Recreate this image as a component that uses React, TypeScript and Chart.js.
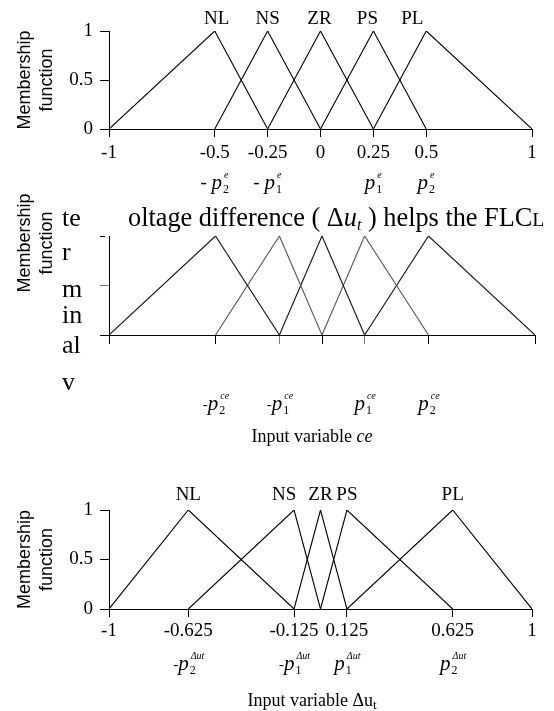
import React, { useEffect, useRef } from 'react';
import { Chart, registerables } from 'chart.js';

Chart.register(...registerables);

const SERIF = '"Liberation Serif", "Times New Roman", serif';
const SANS = '"Liberation Sans", Arial, sans-serif';

// ---------- data ----------
const memberNames = ['NL', 'NS', 'ZR', 'PS', 'PL'];
const mfShape = [0, 1, 0];
const yTickValues = [0, 0.25, 0.5, 0.75, 1];
const yTickLabels = ['0', '', '0.5', '', '1'];
const yTitleLines = ['Membership', 'function'];

// panel 1 : e
const eLeft = [-1, -0.5, -0.25, 0, 0.25];
const ePeak = [-0.5, -0.25, 0, 0.25, 0.5];
const eRight = [-0.25, 0, 0.25, 0.5, 1];
const eTicks = [-1, -0.5, -0.25, 0, 0.25, 0.5, 1];
const eTickLabels = ['-1', '-0.5', '-0.25', '0', '0.25', '0.5', '1'];
const eParamAt = [-0.5, -0.25, 0.25, 0.5];
const eParamSign = ['- ', '- ', '', ''];
const eParamSub = ['2', '1', '1', '2'];
const eParamSup = 'e';

// panel 2 : ce
const ceLeft = [-1, -0.5, -0.2, 0, 0.2];
const cePeak = [-0.5, -0.2, 0, 0.2, 0.5];
const ceRight = [-0.2, 0, 0.2, 0.5, 1];
const ceTicks = [-1, -0.5, -0.2, 0, 0.2, 0.5, 1];
const ceParamAt = [-0.5, -0.2, 0.2, 0.5];
const ceParamSign = ['-', '-', '', ''];
const ceParamSub = ['2', '1', '1', '2'];
const ceParamSup = 'ce';
const ceOverlaySide = ['te', 'r', 'm', 'in', 'al', 'v'];

// panel 3 : delta u_t
const duLeft = [-1, -0.625, -0.125, 0, 0.125];
const duPeak = [-0.625, -0.125, 0, 0.125, 0.625];
const duRight = [-0.125, 0, 0.125, 0.625, 1];
const duTicks = [-1, -0.625, -0.125, 0.125, 0.625, 1];
const duTickLabels = ['-1', '-0.625', '-0.125', '0.125', '0.625', '1'];
const duParamAt = [-0.625, -0.125, 0.125, 0.625];
const duParamSign = ['-', '-', '', ''];
const duParamSub = ['2', '1', '1', '2'];
const duParamSup = 'Δut';

// ---------- helpers ----------
function makeDatasets(lefts: number[], peaks: number[], rights: number[], colors: string[]) {
  return peaks.map((p, i) => ({
    label: memberNames[i],
    data: [
      { x: lefts[i], y: mfShape[0] },
      { x: p, y: mfShape[1] },
      { x: rights[i], y: mfShape[2] },
    ],
    borderColor: colors[i],
    borderWidth: 1.1,
    pointRadius: 0,
    fill: false,
    tension: 0,
  }));
}

function drawNames(chart: any, peaks: number[], nudges: number[], y: number) {
  const ctx = chart.ctx;
  const xs = chart.scales.x;
  ctx.save();
  ctx.font = `19px ${SERIF}`;
  ctx.fillStyle = '#000';
  ctx.textAlign = 'center';
  ctx.textBaseline = 'middle';
  memberNames.forEach((n, i) => ctx.fillText(n, xs.getPixelForValue(peaks[i]) + nudges[i], y));
  ctx.restore();
}

function drawParams(chart: any, at: number[], signs: string[], subs: string[], sup: string, base: number, signSize: number) {
  const ctx = chart.ctx;
  const xs = chart.scales.x;
  ctx.save();
  ctx.fillStyle = '#000';
  ctx.textAlign = 'left';
  ctx.textBaseline = 'alphabetic';
  const pFont = `italic 21px ${SERIF}`;
  const signFont = `${signSize}px ${SERIF}`;
  const subFont = `12px ${SERIF}`;
  const supFont = `italic 10px ${SERIF}`;
  at.forEach((v, i) => {
    const cx = xs.getPixelForValue(v);
    ctx.font = signFont;
    const ws = ctx.measureText(signs[i]).width;
    ctx.font = pFont;
    const wp = ctx.measureText('p').width;
    ctx.font = subFont;
    const wsub = ctx.measureText(subs[i]).width;
    ctx.font = supFont;
    const wsup = ctx.measureText(sup).width;
    const total = ws + wp + 1 + Math.max(wsub, wsup);
    let x = cx - total / 2;
    ctx.font = signFont;
    ctx.fillText(signs[i], x, base - 1);
    x += ws;
    ctx.font = pFont;
    ctx.fillText('p', x, base);
    x += wp + 1;
    ctx.font = subFont;
    ctx.fillText(subs[i], x, base + 4);
    ctx.font = supFont;
    ctx.fillText(sup, x + 1, base - 11);
  });
  ctx.restore();
}

type Seg = { t: string; style?: string; scale?: number; dy?: number };

// draws a run of mixed-style text; size is chosen so the run fills targetWidth when given
function drawRun(ctx: any, segs: Seg[], x0: number, base: number, size: number, targetWidth: number | null, centerX: number | null) {
  const fontOf = (s: Seg, sz: number) => `${s.style || ''} ${Math.round(sz * (s.scale || 1) * 10) / 10}px ${SERIF}`;
  const measure = (sz: number) =>
    segs.map((s) => {
      ctx.font = fontOf(s, sz);
      return ctx.measureText(s.t).width;
    });
  ctx.save();
  let sz = size;
  if (targetWidth != null) {
    const w0 = measure(size).reduce((a, b) => a + b, 0);
    sz = (size * targetWidth) / w0;
  }
  const widths = measure(sz);
  const sum = widths.reduce((a, b) => a + b, 0);
  let x = centerX != null ? centerX - sum / 2 : x0;
  ctx.fillStyle = '#000';
  ctx.textAlign = 'left';
  ctx.textBaseline = 'alphabetic';
  segs.forEach((s, i) => {
    ctx.font = fontOf(s, sz);
    ctx.fillText(s.t, x, base + (s.dy || 0) * sz / size);
    x += widths[i];
  });
  ctx.restore();
  return sz;
}

function drawRotatedTitle(ctx: any, cx: number, cy: number) {
  ctx.save();
  ctx.fillStyle = '#000';
  ctx.font = `18px ${SANS}`;
  ctx.textAlign = 'center';
  ctx.textBaseline = 'middle';
  ctx.translate(cx, cy);
  ctx.rotate(-Math.PI / 2);
  yTitleLines.forEach((l, i) => ctx.fillText(l, 0, i * 22));
  ctx.restore();
}

type PanelCfg = {
  top: number;
  height: number;
  areaTop: number;
  areaRight: number;
  xHeight: number;
  datasets: any[];
  xTicks: number[];
  xTickLabels: string[] | null;
  xLabelPad: number;
  xTickLen: number;
  greyX: number[];
  greyY: number[];
  yLabels: boolean;
  yTitleOnScale: boolean;
  longY: number[];
  draw: (chart: any) => void;
};

function buildConfig(cfg: PanelCfg) {
  const overlay = {
    id: 'overlay',
    afterDraw: (chart: any) => cfg.draw(chart),
  };
  return {
    type: 'line',
    data: { datasets: cfg.datasets },
    plugins: [overlay],
    options: {
      responsive: false,
      animation: false,
      devicePixelRatio: 1,
      parsing: false,
      layout: { padding: { top: cfg.areaTop, right: 554 - cfg.areaRight, left: 0, bottom: 0 } },
      plugins: { legend: { display: false }, tooltip: { enabled: false }, title: { display: false } },
      scales: {
        x: {
          type: 'linear',
          min: -1,
          max: 1,
          afterBuildTicks: (s: any) => {
            s.ticks = cfg.xTicks.map((v) => ({ value: v }));
          },
          afterFit: (s: any) => {
            s.height = cfg.xHeight;
          },
          ticks: {
            autoSkip: false,
            maxRotation: 0,
            padding: cfg.xLabelPad,
            color: '#000',
            font: { family: SERIF, size: 19 },
            callback: (v: number) => {
              if (!cfg.xTickLabels) return '';
              const i = cfg.xTicks.indexOf(v);
              return i >= 0 ? cfg.xTickLabels[i] : '';
            },
          },
          grid: {
            drawOnChartArea: false,
            drawTicks: true,
            tickLength: cfg.xTickLen,
            tickWidth: 1,
            tickColor: (c: any) => (c.tick && cfg.greyX.includes(c.tick.value) ? '#777' : '#000'),
          },
          border: { display: true, color: '#000', width: 1 },
        },
        y: {
          type: 'linear',
          min: 0,
          max: 1,
          afterBuildTicks: (s: any) => {
            s.ticks = yTickValues.map((v) => ({ value: v }));
          },
          afterFit: (s: any) => {
            s.width = 109;
          },
          ticks: {
            padding: 7,
            color: '#000',
            font: { family: SERIF, size: 19 },
            callback: (v: number) => {
              if (!cfg.yLabels) return '';
              const i = yTickValues.indexOf(v);
              return i >= 0 ? yTickLabels[i] : '';
            },
          },
          grid: {
            drawOnChartArea: false,
            drawTicks: true,
            tickLength: 9,
            tickWidth: 1,
            tickColor: (c: any) => (c.tick && cfg.greyY.includes(c.tick.value) ? '#777' : '#000'),
            tickBorderDash: (c: any) => (c.tick && cfg.longY.includes(c.tick.value) ? [] : [5, 40]),
          },
          border: { display: true, color: '#000', width: 1 },
          title: {
            display: cfg.yTitleOnScale,
            text: yTitleLines,
            color: '#000',
            font: { family: SANS, size: 18, lineHeight: 1.22 },
            padding: { top: 14, bottom: 0 },
          },
        },
      },
    },
  };
}

function Panel({ cfg }: { cfg: PanelCfg }) {
  const ref = useRef<HTMLCanvasElement | null>(null);
  useEffect(() => {
    if (!ref.current) return;
    const chart = new Chart(ref.current, buildConfig(cfg) as any);
    return () => chart.destroy();
  }, [cfg]);
  return (
    <canvas
      ref={ref}
      width={554}
      height={cfg.height}
      style={{ position: 'absolute', left: 0, top: cfg.top, width: 554, height: cfg.height, display: 'block' }}
    />
  );
}

const black = ['#000', '#000', '#000', '#000', '#000'];
const ceColors = ['#111', '#555', '#111', '#555', '#111'];

const panel1: PanelCfg = {
  top: 0,
  height: 200,
  areaTop: 31,
  areaRight: 532,
  xHeight: 71,
  datasets: makeDatasets(eLeft, ePeak, eRight, black),
  xTicks: eTicks,
  xTickLabels: eTickLabels,
  xLabelPad: 5,
  xTickLen: 8,
  greyX: [],
  greyY: [],
  yLabels: true,
  yTitleOnScale: true,
  longY: [0, 0.5, 1],
  draw: (chart) => {
    drawNames(chart, ePeak, [2, 0, -1, -6, -14], 19);
    drawParams(chart, eParamAt, eParamSign, eParamSub, eParamSup, 189, 19);
  },
};

// panel 2 canvas starts at page y = 185
const panel2: PanelCfg = {
  top: 185,
  height: 265,
  areaTop: 51,
  areaRight: 535,
  xHeight: 115,
  datasets: makeDatasets(ceLeft, cePeak, ceRight, ceColors),
  xTicks: ceTicks,
  xTickLabels: null,
  xLabelPad: 5,
  xTickLen: 9,
  greyX: [-0.2, 0.2],
  greyY: [0.5],
  yLabels: false,
  yTitleOnScale: false,
  longY: [0, 0.5],
  draw: (chart) => {
    const ctx = chart.ctx;
    drawRotatedTitle(ctx, 25, 58);
    // stray text overlay from the source document
    const mainSize = drawRun(
      ctx,
      [
        { t: 'oltage difference ( ' },
        { t: 'Δ' },
        { t: 'u', style: 'italic' },
        { t: 't', style: 'italic', scale: 0.62, dy: 4 },
        { t: ' ) helps the FLC' },
        { t: 'L', scale: 0.75 },
      ],
      128,
      41,
      24,
      417,
      null
    );
    const sideY = [41, 75, 112, 138, 168, 205];
    ctx.save();
    ctx.fillStyle = '#000';
    ctx.font = `${Math.round(mainSize)}px ${SERIF}`;
    ctx.textAlign = 'left';
    ctx.textBaseline = 'alphabetic';
    ceOverlaySide.forEach((t, i) => ctx.fillText(t, 62, sideY[i]));
    ctx.restore();
    drawParams(chart, ceParamAt, ceParamSign, ceParamSub, ceParamSup, 225, 15);
    drawRun(ctx, [{ t: 'Input variable ' }, { t: 'ce', style: 'italic' }], 0, 257, 18, null, 312);
  },
};

const panel3: PanelCfg = {
  top: 450,
  height: 261,
  areaTop: 60,
  areaRight: 532,
  xHeight: 102,
  datasets: makeDatasets(duLeft, duPeak, duRight, black),
  xTicks: duTicks,
  xTickLabels: duTickLabels,
  xLabelPad: 3,
  xTickLen: 8,
  greyX: [],
  greyY: [],
  yLabels: true,
  yTitleOnScale: true,
  longY: [0, 0.5, 1],
  draw: (chart) => {
    drawNames(chart, duPeak, [0, -10, 0, 0, 0], 45);
    drawParams(chart, duParamAt, duParamSign, duParamSub, duParamSup, 220, 15);
    drawRun(chart.ctx, [{ t: 'Input variable Δu' }, { t: 't', scale: 0.72, dy: 3 }], 0, 256, 18, null, 312);
  },
};

export default function App() {
  return (
    <div style={{ position: 'absolute', left: 0, top: 0, width: 554, height: 711, background: '#fff' }}>
      <Panel cfg={panel1} />
      <Panel cfg={panel2} />
      <Panel cfg={panel3} />
    </div>
  );
}
